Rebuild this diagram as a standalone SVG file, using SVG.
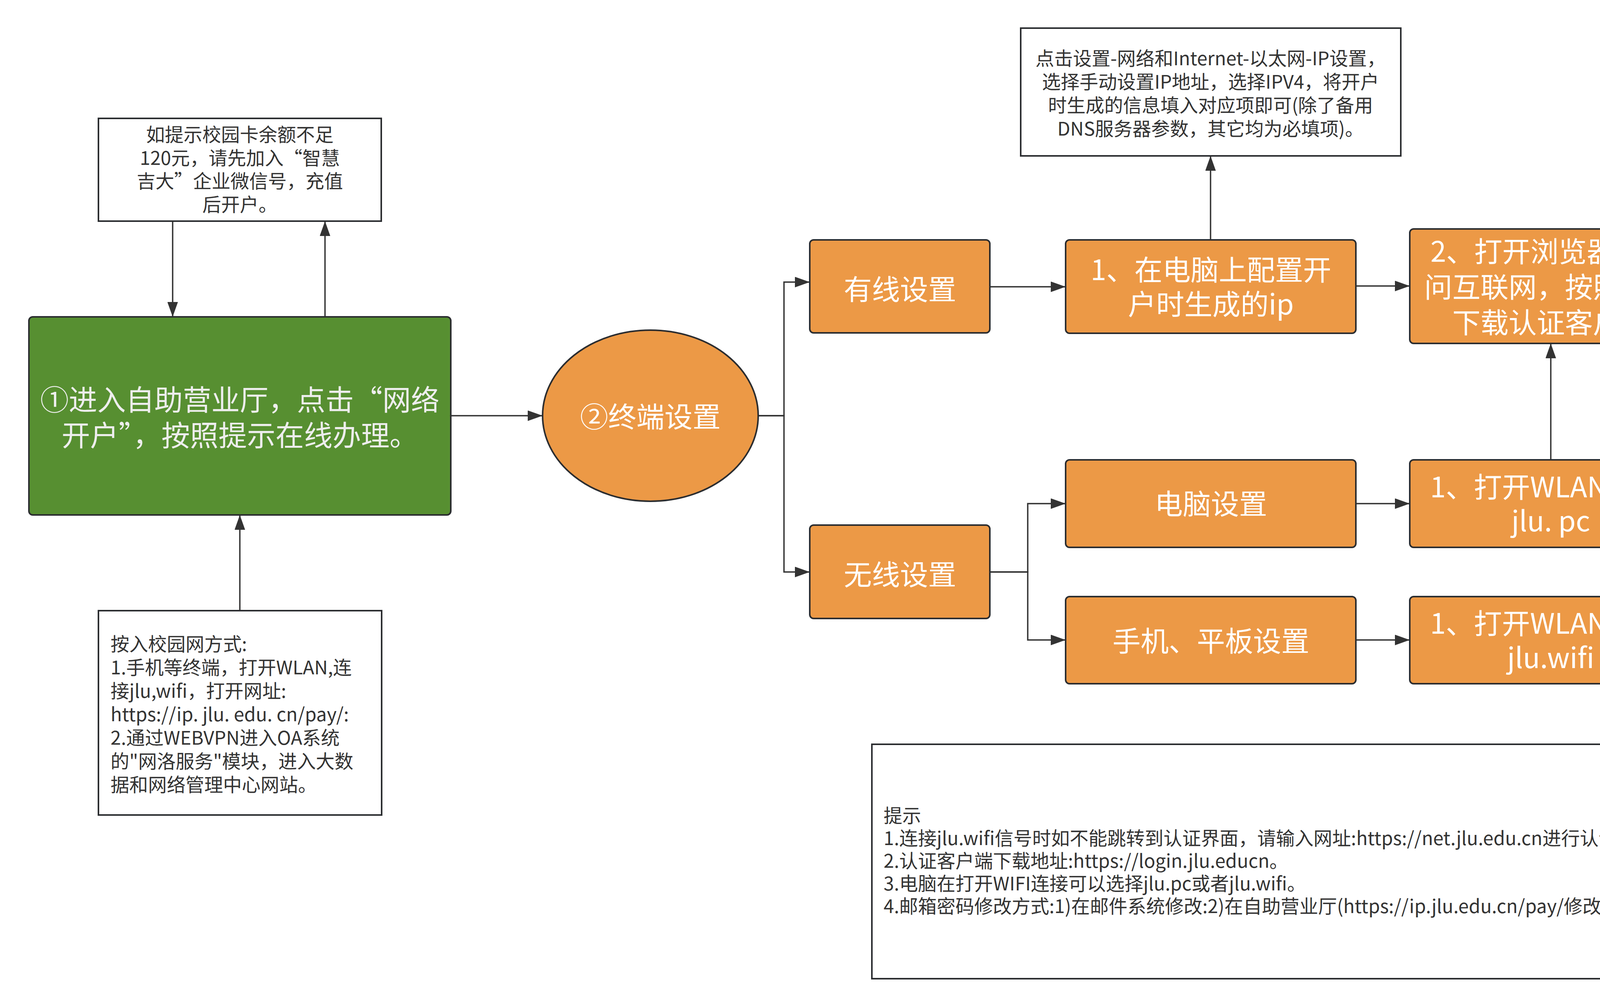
<svg xmlns="http://www.w3.org/2000/svg" width="5811" height="2580" viewBox="0 0 5811 2580">
<style>
.note{fill:#ffffff;stroke:#2b2d30;stroke-width:4}
.org{fill:#ec9946;stroke:#2b2d30;stroke-width:4}
.grn{fill:#578f31;stroke:#2b2d30;stroke-width:4}
.t{font-family:"Noto Sans CJK SC","Microsoft YaHei",sans-serif}
.nt{font-size:48px;fill:#333333}
.tip{font-size:48px;fill:#333333}
.wt{font-size:72px;fill:#ffffff;text-anchor:middle}
.gt{font-size:73px;fill:#eeeeee;text-anchor:middle}
.c{text-anchor:middle}
.ln{fill:none;stroke:#333333;stroke-width:3.5;marker-end:url(#ah)}
</style>
<defs>
<marker id="ah" markerUnits="userSpaceOnUse" markerWidth="38" markerHeight="27" viewBox="0 0 38 27" refX="38" refY="13.5" orient="auto">
<path d="M0,0 L38,13.5 L0,27 z" fill="#333333"/>
</marker>
</defs>
<rect width="5811" height="2580" fill="#ffffff"/>

<g id="connectors">
<path class="ln" d="M442,566 V811"/>
<path class="ln" d="M832,811 V566"/>
<path class="ln" d="M614,1563 V1318"/>
<path class="ln" d="M1154,1064 H1389"/>
<path class="ln" d="M1942,1064 H2007 V722 H2073"/>
<path class="ln" d="M1942,1064 H2007 V1464 H2073"/>
<path class="ln" d="M2534,734 H2728"/>
<path class="ln" d="M3099,614 V399"/>
<path class="ln" d="M3471,732 H3609"/>
<path class="ln" d="M2534,1464 H2631 V1289 H2728"/>
<path class="ln" d="M2534,1464 H2631 V1638 H2728"/>
<path class="ln" d="M3471,1289 H3609"/>
<path class="ln" d="M3970,1177 V879"/>
<path class="ln" d="M3471,1638 H3609"/>
<path class="ln" d="M4330,733 H4488"/>
<path class="ln" d="M4330,1638 H4488"/>
<path class="ln" d="M5208,733 H5303 V1200 H5396"/>
<path class="ln" d="M5208,1639 H5303 V1200 H5396"/>
</g>

<g id="note-balance">
<rect class="note" x="252" y="303" width="724" height="263"/>
<text class="t nt c" x="614" y="362">如提示校园卡余额不足</text>
<text class="t nt c" x="614" y="422">120元，请先加入“智慧</text>
<text class="t nt c" x="614" y="481">吉大”企业微信号，充值</text>
<text class="t nt c" x="614" y="541">后开户。</text>
</g>

<g id="step1">
<rect class="grn" x="74" y="811" width="1080" height="507" rx="10"/>
<text class="t gt" x="614" y="1050">①进入自助营业厅，点击“网络</text>
<text class="t gt" x="614" y="1141">开户”，按照提示在线办理。</text>
</g>

<g id="note-access">
<rect class="note" x="252" y="1563" width="725" height="523"/>
<text class="t nt" x="283" y="1666">按入校园网方式:</text>
<text class="t nt" x="283" y="1726">1.手机等终端，打开WLAN,连</text>
<text class="t nt" x="283" y="1786">接jlu,wifi，打开网址:</text>
<text class="t nt" x="283" y="1846">https://ip. jlu. edu. cn/pay/:</text>
<text class="t nt" x="283" y="1906">2.通过WEBVPN进入OA系统</text>
<text class="t nt" x="283" y="1966">的"网洛服务"模块，进入大数</text>
<text class="t nt" x="283" y="2026">据和网络管理中心网站。</text>
</g>

<g id="step2">
<ellipse class="org" cx="1665" cy="1064" rx="276" ry="219"/>
<text class="t wt" x="1665" y="1093">②终端设置</text>
</g>

<g id="wired">
<rect class="org" x="2073" y="614" width="461" height="238" rx="10"/>
<text class="t wt" x="2304" y="767">有线设置</text>
</g>

<g id="wireless">
<rect class="org" x="2073" y="1344" width="461" height="239" rx="10"/>
<text class="t wt" x="2304" y="1497">无线设置</text>
</g>

<g id="note-ip">
<rect class="note" x="2613" y="72" width="973" height="327"/>
<text class="t nt c" x="3099" y="167">点击设置-网络和Internet-以太网-IP设置，</text>
<text class="t nt c" x="3099" y="227">选择手动设置IP地址，选择IPV4，将开户</text>
<text class="t nt c" x="3099" y="287">时生成的信息填入对应项即可(除了备用</text>
<text class="t nt c" x="3099" y="347">DNS服务器参数，其它均为必填项)。</text>
</g>

<g id="wired-1">
<rect class="org" x="2728" y="614" width="743" height="239" rx="10"/>
<text class="t wt" x="3100" y="717">1、在电脑上配置开</text>
<text class="t wt" x="3100" y="805">户时生成的ip</text>
</g>

<g id="wired-2">
<rect class="org" x="3609" y="586" width="721" height="293" rx="10"/>
<text class="t wt" x="3970" y="670">2、打开浏览器，访</text>
<text class="t wt" x="3970" y="761">问互联网，按照引导</text>
<text class="t wt" x="3970" y="852">下载认证客户端</text>
</g>

<g id="wired-3">
<rect class="org" x="4488" y="586" width="720" height="293" rx="10"/>
<text class="t wt" x="4848" y="715">3、运行认证客户端</text>
<text class="t wt" x="4848" y="806">输入邮箱账号和密码</text>
</g>

<g id="pc">
<rect class="org" x="2728" y="1177" width="743" height="224" rx="10"/>
<text class="t wt" x="3100" y="1316">电脑设置</text>
</g>

<g id="pc-1">
<rect class="org" x="3609" y="1177" width="721" height="224" rx="10"/>
<text class="t wt" x="3970" y="1273">1、打开WLAN,连接</text>
<text class="t wt" x="3970" y="1360">jlu. pc</text>
</g>

<g id="mobile">
<rect class="org" x="2728" y="1527" width="743" height="223" rx="10"/>
<text class="t wt" x="3100" y="1667">手机、平板设置</text>
</g>

<g id="mobile-1">
<rect class="org" x="3609" y="1527" width="721" height="223" rx="10"/>
<text class="t wt" x="3970" y="1622">1、打开WLAN,连接</text>
<text class="t wt" x="3970" y="1710">jlu.wifi</text>
</g>

<g id="mobile-2">
<rect class="org" x="4488" y="1527" width="720" height="223" rx="10"/>
<text class="t wt" x="4848" y="1618">2、在弹窗中输入邮</text>
<text class="t wt" x="4848" y="1709">箱账号和密码</text>
</g>

<g id="step3">
<rect class="org" x="5396" y="1083" width="341" height="235" rx="10"/>
<text class="t wt" x="5566" y="1187">③认证</text>
<text class="t wt" x="5566" y="1277">上网</text>
</g>

<g id="tips">
<rect class="note" x="2232" y="1905" width="2073" height="600"/>
<text class="t tip" x="2262" y="2105">提示</text>
<text class="t tip" x="2262" y="2163">1.连接jlu.wifi信号时如不能跳转到认证界面，请输入网址:https://net.jlu.edu.cn进行认证。</text>
<text class="t tip" x="2262" y="2221">2.认证客户端下载地址:https://login.jlu.educn。</text>
<text class="t tip" x="2262" y="2279">3.电脑在打开WIFI连接可以选择jlu.pc或者jlu.wifi。</text>
<text class="t tip" x="2262" y="2337">4.邮箱密码修改方式:1)在邮件系统修改:2)在自助营业厅(https://ip.jlu.edu.cn/pay/修改)。</text>
</g>
</svg>
